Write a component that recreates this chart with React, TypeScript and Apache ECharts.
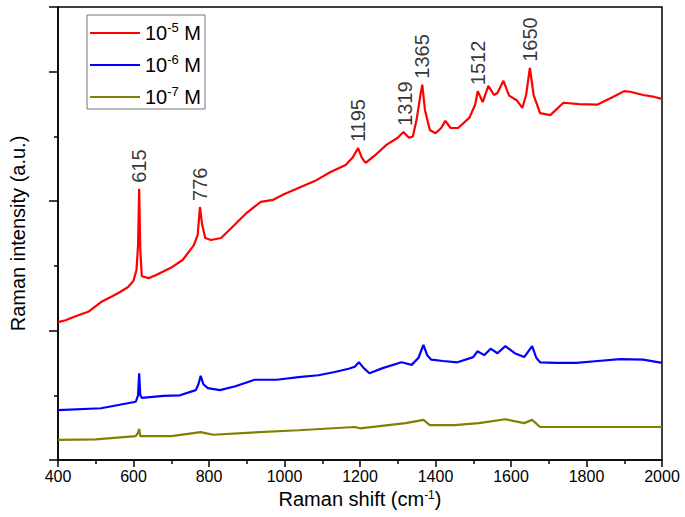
import React, { useEffect, useRef } from "react";
import * as echarts from "echarts";

// Raman shift (cm^-1) and intensity (a.u.)
const redX = [400, 420, 450, 480, 514, 540, 560, 585, 600, 608, 612, 615, 618, 622, 640, 660, 699, 730, 760, 770, 776, 782, 790, 805, 832, 860, 900, 937, 970, 1000, 1043, 1080, 1122, 1162, 1180, 1195, 1205, 1215, 1240, 1270, 1300, 1315, 1330, 1340, 1350, 1360, 1365, 1372, 1385, 1400, 1415, 1426, 1440, 1460, 1490, 1505, 1512, 1525, 1540, 1555, 1564, 1580, 1595, 1615, 1630, 1640, 1650, 1660, 1677, 1704, 1739, 1780, 1828, 1870, 1900, 1916, 1950, 1980, 2000];
const redY = [2.13, 2.16, 2.23, 2.29, 2.44, 2.52, 2.58, 2.67, 2.77, 2.94, 3.32, 4.19, 3.25, 2.84, 2.81, 2.86, 2.97, 3.09, 3.32, 3.48, 3.91, 3.63, 3.43, 3.40, 3.43, 3.59, 3.82, 3.99, 4.02, 4.11, 4.22, 4.31, 4.45, 4.56, 4.67, 4.82, 4.67, 4.59, 4.71, 4.87, 4.98, 5.07, 4.98, 5.0, 5.26, 5.64, 5.80, 5.41, 5.10, 5.05, 5.13, 5.24, 5.13, 5.13, 5.29, 5.49, 5.70, 5.53, 5.78, 5.64, 5.67, 5.86, 5.63, 5.56, 5.44, 5.64, 6.06, 5.64, 5.36, 5.33, 5.52, 5.50, 5.49, 5.61, 5.70, 5.69, 5.64, 5.61, 5.58];

const blueX = [400, 514, 560, 606, 612, 615, 618, 622, 680, 723, 765, 772, 778, 785, 797, 829, 870, 921, 980, 1037, 1090, 1133, 1170, 1186, 1197, 1210, 1225, 1260, 1310, 1337, 1355, 1368, 1378, 1389, 1420, 1458, 1500, 1511, 1529, 1546, 1564, 1585, 1610, 1635, 1656, 1667, 1677, 1720, 1773, 1830, 1889, 1950, 2000];
const blueY = [0.77, 0.80, 0.85, 0.90, 1.00, 1.34, 1.00, 0.96, 0.99, 1.00, 1.08, 1.17, 1.30, 1.17, 1.11, 1.08, 1.14, 1.24, 1.24, 1.28, 1.31, 1.36, 1.41, 1.44, 1.51, 1.42, 1.34, 1.42, 1.51, 1.47, 1.58, 1.78, 1.62, 1.55, 1.53, 1.51, 1.59, 1.68, 1.62, 1.72, 1.65, 1.76, 1.65, 1.59, 1.76, 1.58, 1.51, 1.50, 1.50, 1.53, 1.56, 1.55, 1.50];

const oliveX = [400, 500, 606, 612, 615, 618, 700, 778, 811, 900, 1037, 1186, 1200, 1321, 1368, 1385, 1450, 1515, 1585, 1635, 1656, 1677, 1800, 2000];
const oliveY = [0.31, 0.32, 0.37, 0.42, 0.48, 0.37, 0.37, 0.43, 0.39, 0.42, 0.46, 0.51, 0.49, 0.57, 0.62, 0.54, 0.54, 0.57, 0.63, 0.57, 0.62, 0.51, 0.51, 0.51];

const peakLabels = ["615", "776", "1195", "1319", "1365", "1512", "1650"];
const peakX = [615, 776, 1195, 1319, 1365, 1512, 1650];
const peakY = [4.19, 3.91, 4.82, 5.07, 5.80, 5.70, 6.06];

const seriesNames = ["10^-5 M", "10^-6 M", "10^-7 M"];
const seriesExp = ["-5", "-6", "-7"];
const seriesColors = ["#ff0000", "#0000ff", "#808000"];

const FONT = "'Liberation Sans', Arial, sans-serif";

const zip = (xs: number[], ys: number[]) => xs.map((x, i) => [x, ys[i]]);

export default function App() {
  const ref = useRef<HTMLDivElement>(null);
  useEffect(() => {
    if (!ref.current) return;
    const chart = echarts.init(ref.current, undefined, { renderer: "svg" });
    const lineData = [zip(redX, redY), zip(blueX, blueY), zip(oliveX, oliveY)];
    chart.setOption({
      animation: false,
      backgroundColor: "#ffffff",
      textStyle: { fontFamily: FONT },
      grid: {
        left: 57,
        right: 23,
        top: 7,
        bottom: 57,
        show: true,
        borderColor: "#000",
        borderWidth: 1.5,
        backgroundColor: "transparent",
      },
      legend: {
        data: seriesNames,
        left: 87,
        top: 15,
        orient: "vertical",
        icon: "rect",
        itemWidth: 50,
        itemHeight: 2,
        itemGap: 10,
        padding: [6, 4, 2, 3],
        borderColor: "#777",
        borderWidth: 1,
        formatter: (name: string) => {
          const i = seriesNames.indexOf(name);
          return `{b|10}{s|${seriesExp[i]}}{b| M}`;
        },
        textStyle: {
          fontFamily: FONT,
          color: "#000",
          rich: {
            b: { fontSize: 20, lineHeight: 24, fontFamily: FONT, color: "#000" },
            s: { fontSize: 13, lineHeight: 13, verticalAlign: "top", fontFamily: FONT, color: "#000" },
          },
        },
      },
      xAxis: {
        type: "value",
        min: 400,
        max: 2000,
        interval: 200,
        name: "Raman shift (cm{s|-1})",
        nameLocation: "middle",
        nameGap: 25,
        nameTextStyle: {
          fontSize: 20,
          color: "#000",
          fontFamily: FONT,
          rich: {
            s: { fontSize: 12, verticalAlign: "top", lineHeight: 12, fontFamily: FONT, color: "#000" },
          },
        },
        axisLine: { show: true, onZero: false, lineStyle: { color: "#000", width: 1.5 } },
        axisTick: { show: true, inside: false, length: 7, lineStyle: { color: "#000", width: 1.5 } },
        minorTick: { show: true, splitNumber: 2, length: 4, lineStyle: { color: "#000", width: 1.5 } },
        axisLabel: {
          fontSize: 16,
          color: "#000",
          margin: 8,
          fontFamily: FONT,
          formatter: (v: number) => String(v),
        },
        splitLine: { show: false },
      },
      yAxis: {
        type: "value",
        min: 0,
        max: 7,
        interval: 2,
        name: "Raman intensity (a.u.)",
        nameLocation: "middle",
        nameGap: 30,
        nameTextStyle: { fontSize: 20, color: "#000", fontFamily: FONT },
        axisLine: { show: true, onZero: false, lineStyle: { color: "#000", width: 1.5 } },
        axisTick: { show: true, inside: false, length: 9, lineStyle: { color: "#000", width: 1.5 } },
        minorTick: { show: true, splitNumber: 2, length: 4, lineStyle: { color: "#000", width: 1.5 } },
        axisLabel: { show: false },
        splitLine: { show: false },
      },
      series: [
        ...seriesNames.map((name, i) => ({
          name,
          type: "line",
          data: lineData[i],
          symbol: "none",
          showSymbol: false,
          color: seriesColors[i],
          lineStyle: { color: seriesColors[i], width: 2.2 },
          z: 3 - i,
        })),
        {
          name: "peaks",
          type: "scatter",
          symbolSize: 0,
          data: peakX.map((x, i) => ({ value: [x, peakY[i]], name: peakLabels[i] })),
          label: {
            show: true,
            position: "top",
            distance: 6,
            rotate: 90,
            align: "left",
            verticalAlign: "middle",
            formatter: (p: any) => p.name,
            fontSize: 20,
            color: "#000",
            textBorderWidth: 0,
            fontFamily: FONT,
          },
          silent: true,
          z: 5,
        },
      ],
    });
    return () => chart.dispose();
  }, []);
  return (
    <div
      ref={ref}
      style={{ position: "fixed", left: 0, top: 0, width: 685, height: 517, background: "#fff" }}
    />
  );
}
